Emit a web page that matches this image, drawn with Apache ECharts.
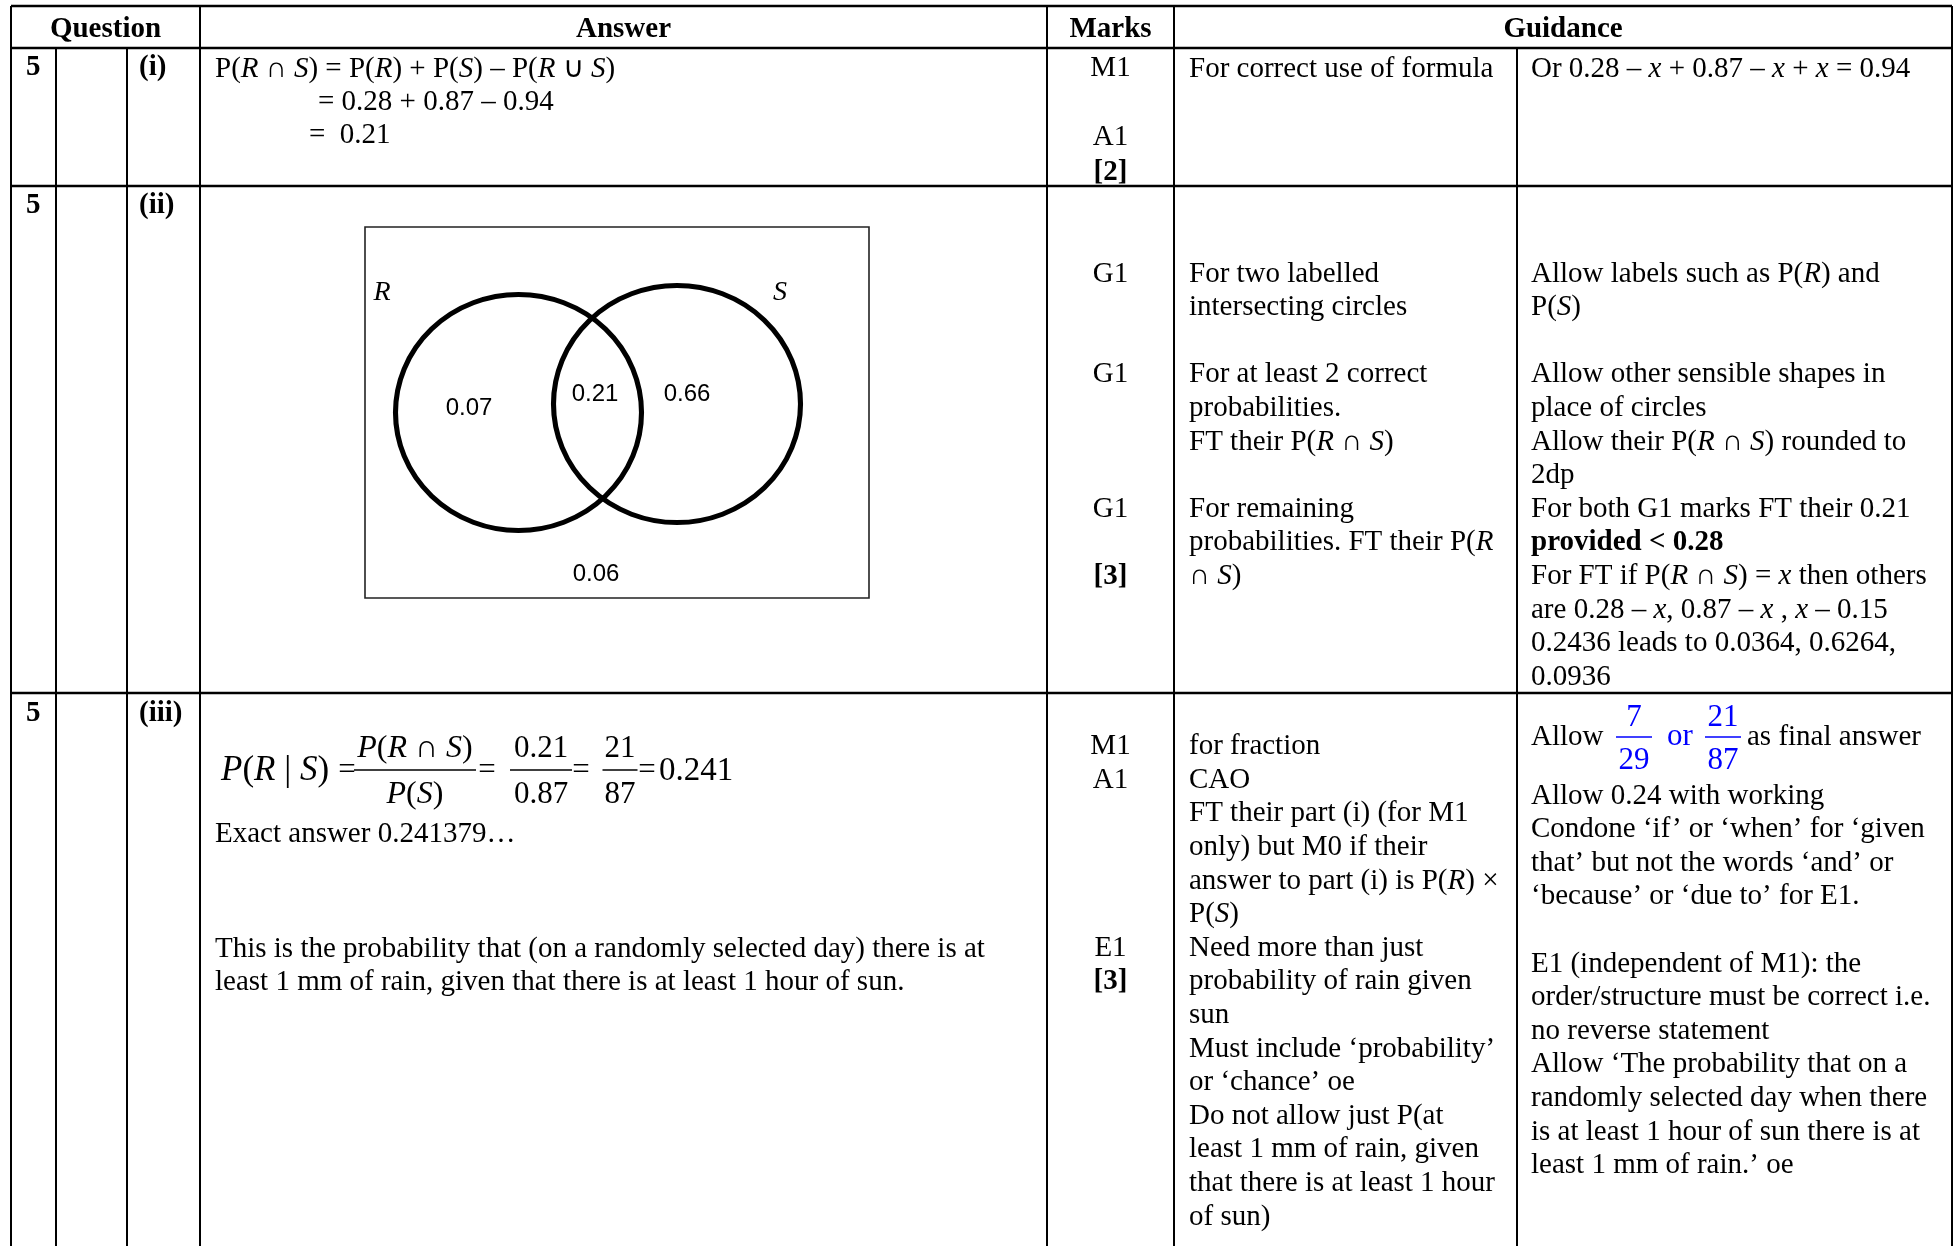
<!DOCTYPE html>
<html>
<head>
<meta charset="utf-8">
<title>Mark scheme Q5</title>
<script src="https://cdn.jsdelivr.net/npm/echarts@6/dist/echarts.min.js"></script>
<style>
  html, body { margin: 0; padding: 0; background: #fff; }
  #main { width: 1954px; height: 1246px; }
</style>
</head>
<body>
<div id="main"></div>
<script>
// ---- data ----
const headers = ['Question', 'Answer', 'Marks', 'Guidance'];
const questionNo = ['5', '5', '5'];
const partLabels = ['(i)', '(ii)', '(iii)'];

// Venn diagram: sets and region probabilities (R only, R ∩ S, S only, neither)
const vennSets = ['R', 'S'];
const vennRegions = ['R only', 'R ∩ S', 'S only', 'neither'];
const vennValues = [0.07, 0.21, 0.66, 0.06];

// part (i)
const answerPart1 = [
  'P({i|R} ∩ {i|S}) = P({i|R}) + P({i|S}) – P({i|R} ∪ {i|S})',
  '= 0.28 + 0.87 – 0.94',
  '=  0.21'
];
const marksPart1 = ['M1', '', 'A1', '[2]'];
const guideAPart1 = ['For correct use of formula'];
const guideBPart1 = ['Or 0.28 – {i|x} + 0.87 – {i|x} + {i|x} = 0.94'];

// part (ii)
const marksPart2 = ['G1', '', '', 'G1', '', '', '', 'G1', '', '[3]'];
const guideAPart2 = [
  'For two labelled', 'intersecting circles', '',
  'For at least 2 correct', 'probabilities.', 'FT their P({i|R} ∩ {i|S})', '',
  'For remaining', 'probabilities. FT their P({i|R}', '∩ {i|S})'
];
const guideBPart2 = [
  'Allow labels such as P({i|R}) and', 'P({i|S})', '',
  'Allow other sensible shapes in', 'place of circles',
  'Allow their P({i|R} ∩ {i|S}) rounded to', '2dp',
  'For both G1 marks FT their 0.21', '{b|provided < 0.28}',
  'For FT if P({i|R} ∩ {i|S}) = {i|x} then others',
  'are 0.28 – {i|x}, 0.87 – {i|x} , {i|x} – 0.15',
  '0.2436 leads to 0.0364, 0.6264,', '0.0936'
];

// part (iii)
const condLeft = '{i|P}({i|R} | {i|S})';
const condFractions = [['{i|P}({i|R} ∩ {i|S})', '{i|P}({i|S})'], ['0.21', '0.87'], ['21', '87']];
const condResult = '0.241';
const exactAnswer = 'Exact answer 0.241379…';
const interpretation = [
  'This is the probability that (on a randomly selected day) there is at',
  'least 1 mm of rain, given that there is at least 1 hour of sun.'
];
const marksPart3 = ['M1', 'A1', '', '', '', '', 'E1', '[3]'];
const guideAPart3 = [
  'for fraction', 'CAO', 'FT their part (i) (for M1', 'only) but M0 if their',
  'answer to part (i) is P({i|R}) ×', 'P({i|S})', 'Need more than just',
  'probability of rain given', 'sun', 'Must include ‘probability’',
  'or ‘chance’ oe', 'Do not allow just P(at', 'least 1 mm of rain, given',
  'that there is at least 1 hour', 'of sun)'
];
const allowFractions = [['7', '29'], ['21', '87']];
const guideBPart3 = [
  'Allow 0.24 with working', 'Condone ‘if’ or ‘when’ for ‘given',
  'that’ but not the words ‘and’ or', '‘because’ or ‘due to’ for E1.', '',
  'E1 (independent of M1): the', 'order/structure must be correct i.e.',
  'no reverse statement', 'Allow ‘The probability that on a',
  'randomly selected day when there', 'is at least 1 hour of sun there is at',
  'least 1 mm of rain.’ oe'
];

// ---- layout ----
const SERIF = "'Liberation Serif', 'Times New Roman', serif";
const SANS = "'Liberation Sans', Arial, sans-serif";
const FS = 29;
const LH = 33.6;
const DY = 2; // small baseline nudge for text
const BLUE = '#0000ff';
const colX = [11, 56, 127, 200, 1047, 1174, 1517, 1952];
const rowY = [6, 48, 186, 693];
const PAGE_BOTTOM = 1246;

const vennBox = { left: 365, top: 227, width: 504, height: 371 };
const circleLayout = [
  { cx: 153.5, cy: 185.5, w: 246, h: 236 },
  { cx: 312, cy: 177, w: 247, h: 237 }
];
const setLabelPos = [[17, 66], [415, 66]];
const regionPos = [[104, 181], [230, 167], [322, 167], [231, 347]];

function richFor(size, color, italicSize) {
  return {
    i: { fontStyle: 'italic', fontSize: italicSize || size, fontFamily: SERIF, fill: color },
    b: { fontWeight: 'bold', fontSize: size, fontFamily: SERIF, fill: color }
  };
}

function txt(x, y, str, o) {
  o = o || {};
  const size = o.size || FS;
  const color = o.color || '#000';
  const align = o.align || 'left';
  return {
    type: 'text', silent: true, z: 10,
    style: {
      text: str, x: x, y: y + DY,
      fontSize: size, fontFamily: o.family || SERIF,
      fontWeight: o.weight || 'normal', fontStyle: o.fontStyle || 'normal',
      fill: color,
      textAlign: align, align: align,
      textVerticalAlign: 'middle', verticalAlign: 'middle',
      rich: richFor(size, color, o.italicSize)
    }
  };
}

function block(x, y0, arr, step, o) {
  const out = [];
  arr.forEach((s, i) => {
    if (!s) return;
    const bold = /^\[\d\]$/.test(s);
    out.push(txt(x, y0 + i * step, s, Object.assign({}, o, bold ? { weight: 'bold' } : {})));
  });
  return out;
}

function hline(x1, x2, y, w, color) {
  return { type: 'line', silent: true, z: 5, shape: { x1: x1, y1: y, x2: x2, y2: y },
    style: { stroke: color || '#000', lineWidth: w || 2.5 } };
}
function vline(x, y1, y2, w) {
  return { type: 'line', silent: true, z: 5, shape: { x1: x, y1: y1, x2: x, y2: y2 },
    style: { stroke: '#000', lineWidth: w || 2 } };
}

const graphics = [];

// table grid
rowY.forEach(y => graphics.push(hline(colX[0], colX[7], y, 2.5)));
colX.forEach((x, i) => {
  const spanned = (i === 1 || i === 2 || i === 6);
  graphics.push(vline(x, spanned ? rowY[1] : rowY[0], PAGE_BOTTOM, 2));
});

// header
const headerCenters = [(colX[0] + colX[3]) / 2, (colX[3] + colX[4]) / 2, (colX[4] + colX[5]) / 2, (colX[5] + colX[7]) / 2];
headers.forEach((h, i) => graphics.push(txt(headerCenters[i], 28, h, { weight: 'bold', align: 'center' })));

// question numbers and parts
const rowFirstY = [66, 204, 712];
questionNo.forEach((q, i) => graphics.push(txt(26, rowFirstY[i], q, { weight: 'bold' })));
partLabels.forEach((p, i) => graphics.push(txt(139, rowFirstY[i], p, { weight: 'bold' })));

const marksX = (colX[4] + colX[5]) / 2;
const guideAX = 1189;
const guideBX = 1531;
const answerX = 215;

// part (i)
graphics.push(txt(answerX, 67, answerPart1[0]));
graphics.push(txt(318, 100, answerPart1[1]));
graphics.push(txt(309, 133, answerPart1[2]));
graphics.push(...block(marksX, 66, marksPart1, 34.7, { align: 'center' }));
graphics.push(...block(guideAX, 67, guideAPart1, LH));
graphics.push(...block(guideBX, 67, guideBPart1, LH));

// part (ii)
graphics.push(...block(marksX, 272, marksPart2, LH, { align: 'center' }));
graphics.push(...block(guideAX, 272, guideAPart2, LH));
graphics.push(...block(guideBX, 272, guideBPart2, LH));

// part (iii) formula
const FF = 31;
const eqX = [347, 487, 581, 647];
const fracCenter = [415, 541, 620];
const fracHalf = [61, 31, 17.5];
graphics.push(txt(221, 769, condLeft, { size: 35, italicSize: 35 }));
eqX.forEach(x => graphics.push(txt(x, 769, '=', { size: FF, align: 'center' })));
condFractions.forEach((f, i) => {
  const sz = i === 0 ? 32 : FF;
  graphics.push(txt(fracCenter[i], 747, f[0], { size: sz, italicSize: sz, align: 'center' }));
  graphics.push(txt(fracCenter[i], 793, f[1], { size: sz, italicSize: sz, align: 'center' }));
  graphics.push(hline(fracCenter[i] - fracHalf[i], fracCenter[i] + fracHalf[i], 770, 1.5));
});
graphics.push(txt(659, 769, condResult, { size: 33 }));
graphics.push(txt(answerX, 832, exactAnswer));
graphics.push(...block(answerX, 947, interpretation, LH));

graphics.push(...block(marksX, 744.5, marksPart3, LH, { align: 'center' }));
graphics.push(...block(guideAX, 744.5, guideAPart3, LH));

// "Allow 7/29 or 21/87 as final answer"
const allowCenters = [1634, 1723];
graphics.push(txt(guideBX, 735, 'Allow'));
allowFractions.forEach((f, i) => {
  graphics.push(txt(allowCenters[i], 716, f[0], { size: FF, color: BLUE, align: 'center' }));
  graphics.push(txt(allowCenters[i], 759, f[1], { size: FF, color: BLUE, align: 'center' }));
  graphics.push(hline(allowCenters[i] - 18, allowCenters[i] + 18, 737, 1.5, BLUE));
});
graphics.push(txt(1667, 735, 'or', { size: FF, color: BLUE }));
graphics.push(txt(1747, 735, 'as final answer'));
graphics.push(...block(guideBX, 794, guideBPart3, LH));

// ---- chart ----
const chart = echarts.init(document.getElementById('main'), null, { renderer: 'canvas' });

const vennLabel = {
  show: true, position: 'inside', color: '#000', opacity: 1,
  textBorderWidth: 0, textBorderColor: 'transparent', textShadowBlur: 0
};

const option = {
  backgroundColor: '#fff',
  animation: false,
  grid: {
    left: vennBox.left, top: vennBox.top, width: vennBox.width, height: vennBox.height,
    show: true, borderColor: '#222', borderWidth: 1.6, backgroundColor: 'transparent'
  },
  xAxis: { type: 'value', min: 0, max: vennBox.width, show: false },
  yAxis: { type: 'value', min: 0, max: vennBox.height, inverse: true, show: false },
  series: [
    {
      name: 'circles', type: 'scatter', silent: true, symbol: 'circle',
      data: vennSets.map((s, i) => ({
        name: s,
        value: [circleLayout[i].cx, circleLayout[i].cy],
        symbolSize: [circleLayout[i].w, circleLayout[i].h]
      })),
      itemStyle: { color: 'rgba(0,0,0,0)', borderColor: '#000', borderWidth: 5, opacity: 1 }
    },
    {
      name: 'set labels', type: 'scatter', silent: true, symbolSize: 1, z: 3,
      itemStyle: { color: 'rgba(255,255,255,0)' },
      data: vennSets.map((s, i) => ({ name: s, value: setLabelPos[i] })),
      label: Object.assign({}, vennLabel, {
        formatter: p => p.name,
        fontFamily: SERIF, fontStyle: 'italic', fontSize: 28
      })
    },
    {
      name: 'regions', type: 'scatter', silent: true, symbolSize: 1, z: 3,
      itemStyle: { color: 'rgba(255,255,255,0)' },
      data: vennRegions.map((r, i) => ({ name: r, value: regionPos[i] })),
      label: Object.assign({}, vennLabel, {
        formatter: p => vennValues[p.dataIndex].toFixed(2),
        fontFamily: SANS, fontSize: 24
      })
    }
  ],
  graphic: graphics
};

chart.setOption(option);
</script>
</body>
</html>
